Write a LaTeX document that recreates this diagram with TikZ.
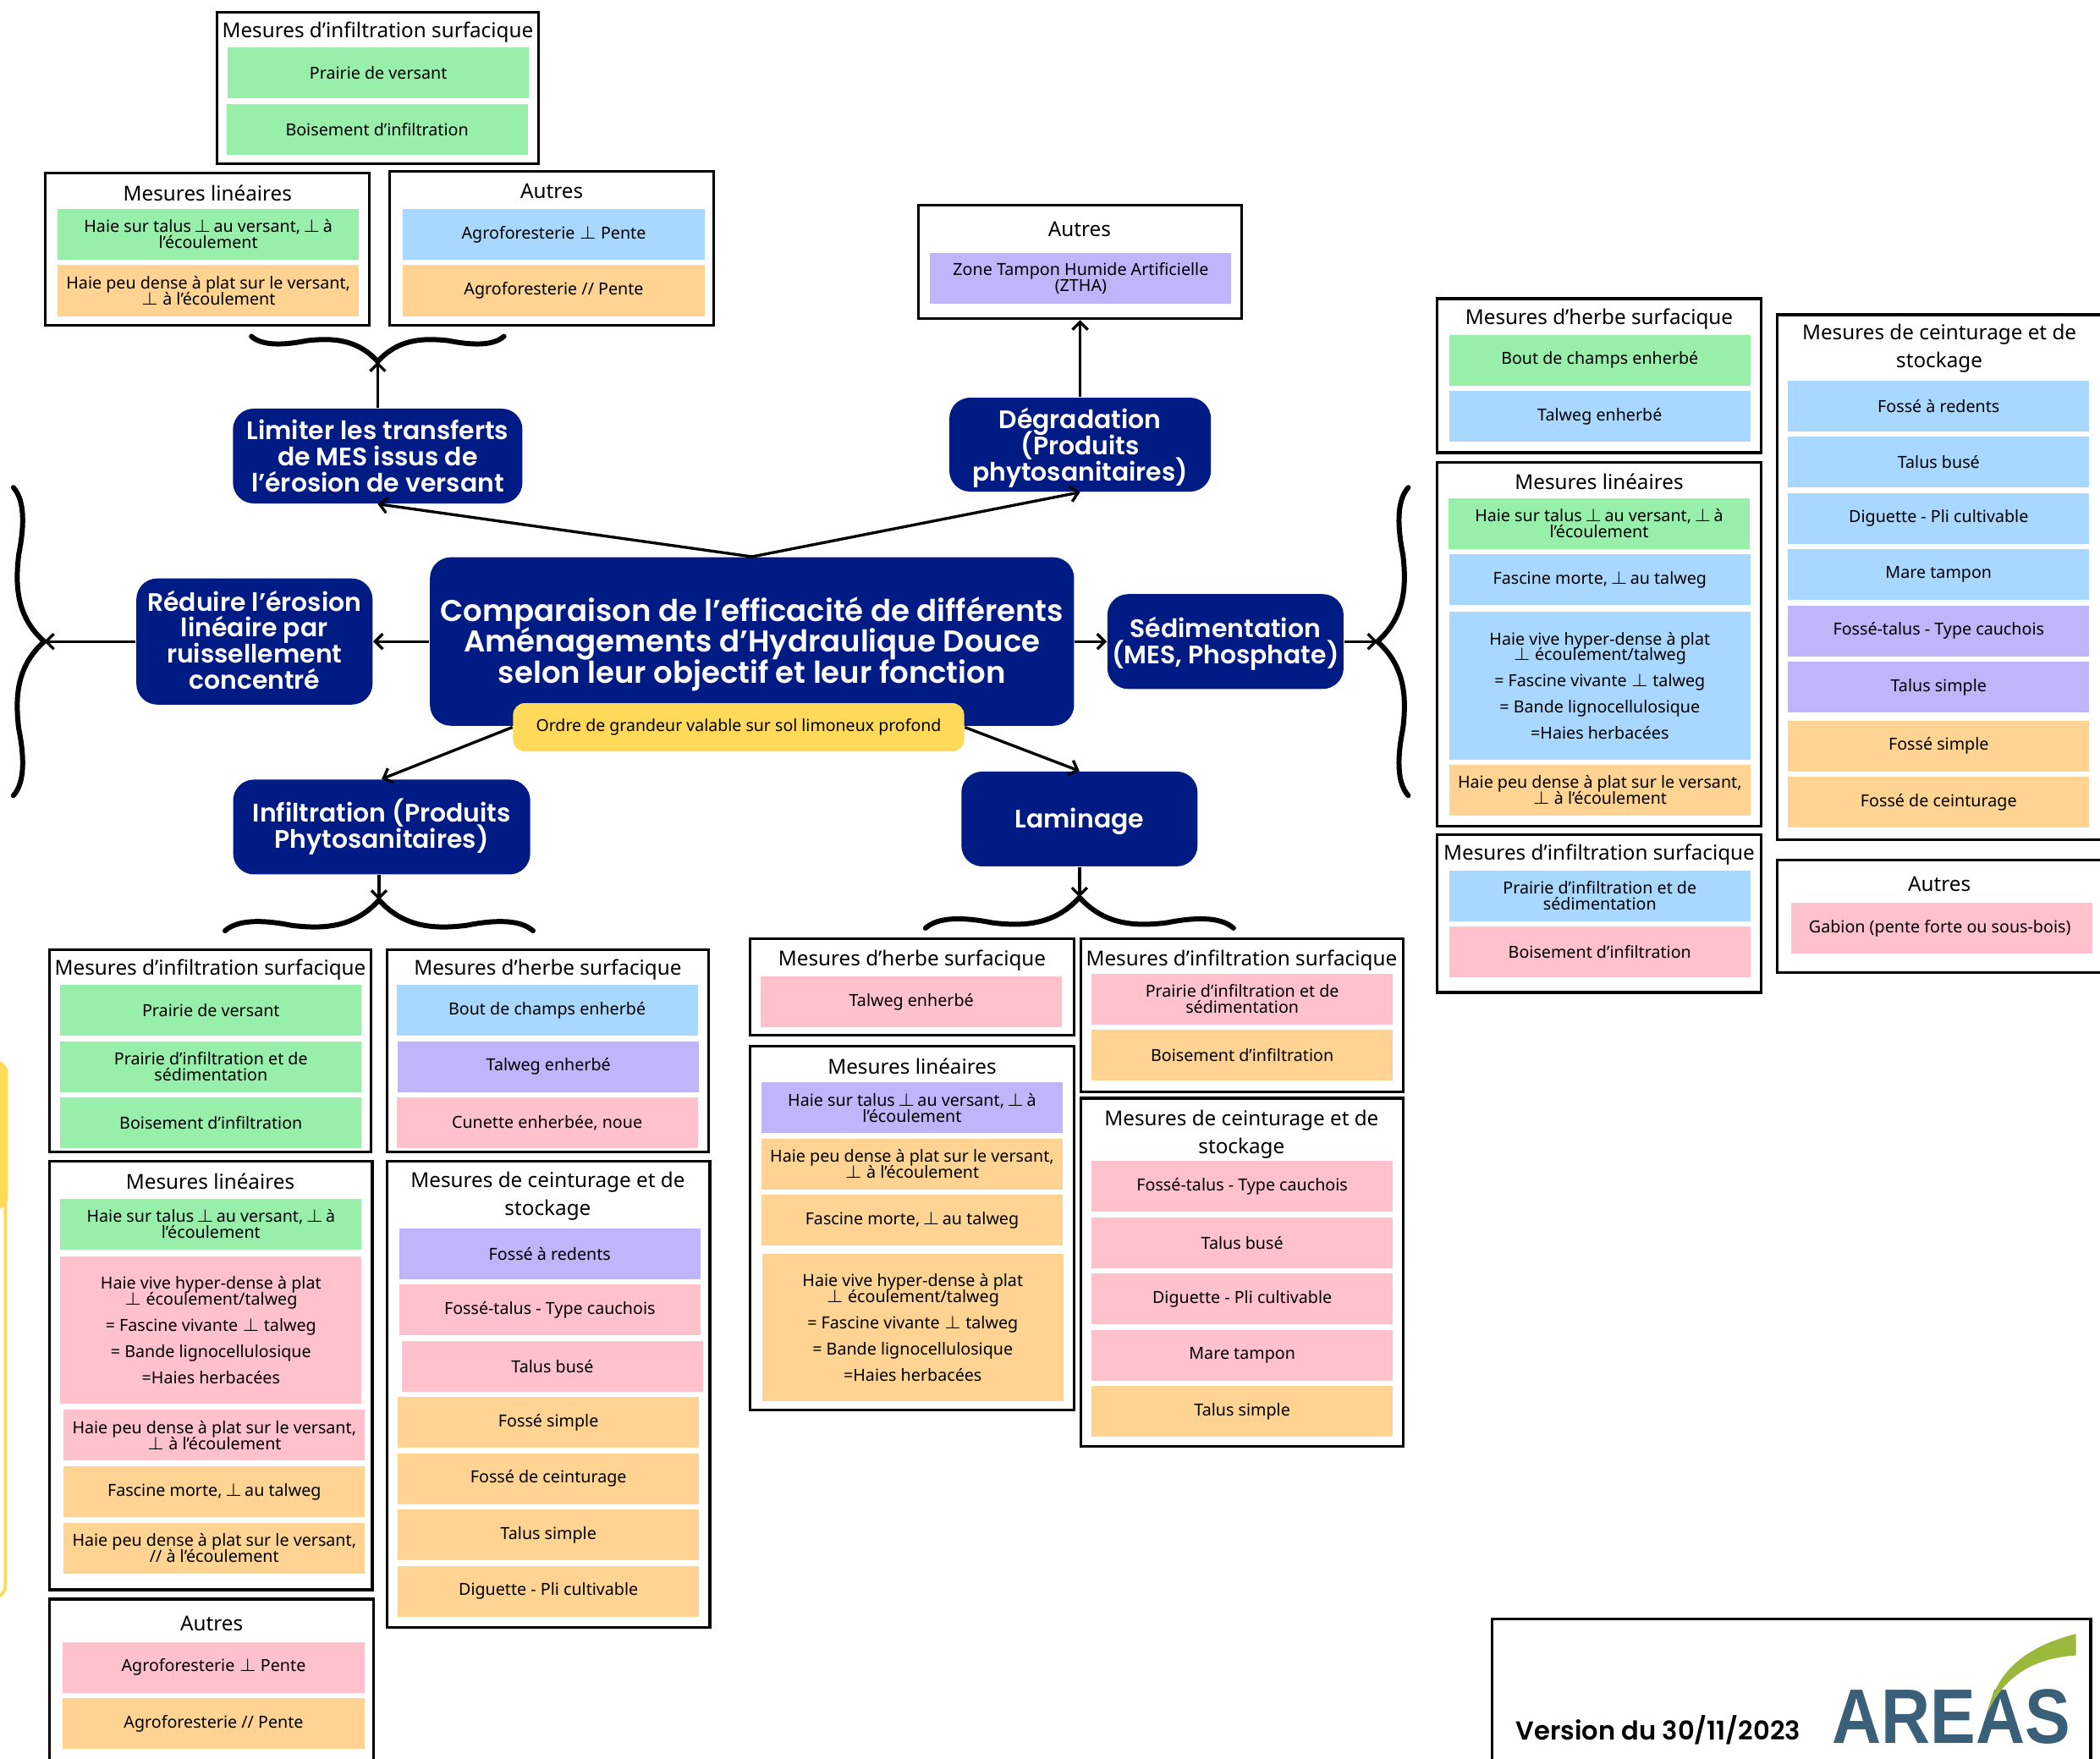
\documentclass[tikz,border=0pt]{standalone}
\usepackage{fontspec}
\setmainfont{Noto Sans}
\newfontfamily\headfont[BoldFont={Poppins SemiBold}]{Poppins}
\newfontfamily\logofont{Liberation Sans}
\usetikzlibrary{
  arrows.meta,
  fit
}
\definecolor{navyhub}{RGB}{0,28,132}
\definecolor{noteyellow}{RGB}{255,217,90}
\definecolor{cgreen}{RGB}{152,239,170}
\definecolor{cblue}{RGB}{168,216,255}
\definecolor{cpurple}{RGB}{192,180,250}
\definecolor{cpink}{RGB}{255,193,204}
\definecolor{corange}{RGB}{255,211,145}
\definecolor{logoblue}{RGB}{58,95,120}
\definecolor{logogreen}{RGB}{155,184,60}
\newcommand{\tperp}{\hspace{-.1em}$\perp$\hspace{-.1em}}
\newcommand{\haietalus}{Haie sur talus \tperp{} au versant, \tperp{} à\\ l’écoulement}
\newcommand{\haiepeu}{Haie peu dense à plat sur le versant,\\ $\perp$ à l’écoulement}
\newcommand{\haievive}{Haie vive hyper-dense à plat\\ $\perp$ écoulement/talweg\\[3.4pt] = Fascine vivante $\perp$ talweg\\[3.4pt] = Bande lignocellulosique\\[3.4pt] =Haies herbacées}
\newcommand{\prairieinf}{Prairie d’infiltration et de\\ sédimentation}
\newcommand{\fascine}{Fascine morte, \tperp{} au talweg}
\newcommand{\boisement}{Boisement d’infiltration}
\newcommand{\titreinf}{Mesures d’infiltration surfacique}
\newcommand{\titreherbe}{Mesures d’herbe surfacique}
\newcommand{\titrelin}{Mesures linéaires}
\newcommand{\titreceint}{Mesures de ceinturage et de\\[2.4pt] stockage}

\begin{document}
\begin{tikzpicture}[
  x=0.015829cm, y=-0.015829cm,
  tightlines/.style={execute at begin node={\lineskiplimit=-6pt}},
  panel/.style={draw, line width=0.9pt, fill=white, inner sep=0pt},
  paneltitle/.style={font=\fontsize{6.9}{7}\selectfont, align=center, inner sep=0pt, yshift=-0.015cm},
  cell/.style={tightlines, minimum width=3.56cm, minimum height=0.6cm, inner sep=0pt, align=center,
               font=\fontsize{5.6}{5.4}\selectfont},
  hub/.style={tightlines, fill=navyhub, text=white, rounded corners=7pt, align=center, inner sep=0pt,
              font=\headfont\fontsize{8.5}{8.75}\selectfont\bfseries},
  link/.style={-{Straight Barb[length=0.9mm,width=1.8mm]}, line width=0.95pt},
  curly/.pic={
    \draw[line width=1.7pt, line cap=round]
      (-115,23) .. controls (-105,14) and (-85,15) .. (-65,19)
      .. controls (-40,22) and (-18,20) .. (0,0)
      .. controls (18,20) and (40,22) .. (65,19)
      .. controls (85,15) and (105,14) .. (115,23);
  }
]
  \useasboundingbox (0,0) rectangle (1568,1313);

  % Frames
  \foreach \n/\xa/\ya/\xb/\yb in {
    pa/162/9/402/122, pb/34/129/276/243, pc/291/128/533/243, pd/686/153/927/238,
    pe/37/709/277/860, pf/289/709/529/860, pg/37/867/278/1187, ph/289/867/530/1215, pi/37/1194/279/1320,
    pj/560/701/802/773, pk/807/701/1048/815, pl/560/781/802/1053, pm/807/820/1048/1080,
    pn/1073/223/1315/338, po/1073/345/1315/617, pp/1073/623/1315/741, pq/1327/235/1575/627, pr/1327/642/1575/726,
    ps/1114/1209/1561/1320
  } {
    \node[panel, fit={(\xa,\ya)(\xb,\yb)}] (\n) {};
  }

  % Titles
  \foreach \n/\x/\y/\txt in {
    ta/282/23/\titreinf, tb/155/143/\titrelin, tc/412/142/Autres, td/806/170/Autres,
    te/157/723/\titreinf, tf/409/723/\titreherbe, tg/157/881/\titrelin, ti/158/1211/Autres,
    tj/681/716/\titreherbe, tk/927/716/\titreinf, tl/681/795/\titrelin,
    tn/1194/237/\titreherbe, to/1194/359/\titrelin, tp/1194/637/\titreinf, tr/1448/659/Autres,
    th/409/892/\titreceint, tm/927/846/\titreceint, tq/1448/259/\titreceint
  } {
    \node[paneltitle] (\n) at (\x,\y) {\txt};
  }

  % Cells
  \foreach \n/\x/\y/\col/\txt in {
    a1/282.5/54.5/cgreen/Prairie de versant, a2/281.5/96.5/cgreen/\boisement,
    b1/155.5/175/cgreen/\haietalus, b2/155.5/217/corange/\haiepeu,
    c1/413.5/175/cblue/{Agroforesterie $\perp$ Pente}, c2/413.5/217/corange/{Agroforesterie // Pente},
    d1/807/208/cpurple/{Zone Tampon Humide Artificielle\\ (ZTHA)},
    e1/157.5/754.5/cgreen/Prairie de versant, e2/157.5/796.5/cgreen/\prairieinf, e3/157.5/838.5/cgreen/\boisement,
    f1/408.5/754.5/cblue/Bout de champs enherbé, f2/409.5/796.5/cpurple/Talweg enherbé, f3/408.5/838.5/cpink/{Cunette enherbée, noue},
    g1/157.5/914/cgreen/\haietalus, g3/160/1071.5/cpink/\haiepeu, g4/160/1114/corange/\fascine,
    g5/160/1156/corange/{Haie peu dense à plat sur le versant,\\ // à l’écoulement},
    h1/410.5/936/cpurple/Fossé à redents, h2/410.5/978/cpink/Fossé-talus - Type cauchois, h3/412.5/1020/cpink/Talus busé,
    h4/409.5/1062/corange/Fossé simple, h5/409.5/1104/corange/Fossé de ceinturage, h6/409.5/1146/corange/Talus simple,
    h7/409.5/1188/corange/Diguette - Pli cultivable,
    i1/159.5/1245/cpink/{Agroforesterie $\perp$ Pente}, i2/159.5/1287/corange/{Agroforesterie // Pente},
    j1/680.5/748/cpink/Talweg enherbé,
    k1/927.5/746/cpink/\prairieinf, k2/927.5/788/corange/\boisement,
    l1/681/827/cpurple/\haietalus, l2/681/869/corange/\haiepeu, l3/681/911/corange/\fascine,
    m1/927.5/886/cpink/Fossé-talus - Type cauchois, m2/927.5/928/cpink/Talus busé, m3/927.5/970/cpink/Diguette - Pli cultivable,
    m4/927.5/1012/cpink/Mare tampon, m5/927.5/1054/corange/Talus simple,
    n1/1194.5/269/cgreen/Bout de champs enherbé, n2/1194.5/311/cblue/Talweg enherbé,
    o1/1194/391/cgreen/\haietalus, o2/1194.5/433/cblue/\fascine, o4/1194.5/590/corange/\haiepeu,
    p1/1194.5/669/cblue/\prairieinf, p2/1194.5/711/cpink/\boisement,
    q1/1447.5/303/cblue/Fossé à redents, q2/1447.5/345/cblue/Talus busé, q3/1447.5/387/cblue/Diguette - Pli cultivable,
    q4/1447.5/429/cblue/Mare tampon, q5/1447.5/471/cpurple/Fossé-talus - Type cauchois, q6/1447.5/513/cpurple/Talus simple,
    q7/1447.5/557/corange/Fossé simple, q8/1447.5/599/corange/Fossé de ceinturage,
    r1/1450/693/cpink/Gabion (pente forte ou sous-bois)
  } {
    \node[cell, fill=\col] (\n) at (\x,\y) {\txt};
  }

  % Tall cells
  \foreach \n/\x/\y/\col in {g2/157.5/993/cpink, l4/681.5/991/corange, o3/1194.5/512/cblue} {
    \node[cell, fill=\col, minimum height=1.74cm] (\n) at (\x,\y) {\haievive};
  }

  % Hubs
  \node[hub, minimum width=7.61cm, minimum height=1.99cm, font=\headfont\fontsize{10.1}{10.3}\selectfont\bfseries] (main) at (561.5,479)
    {\rule{0pt}{9.9pt}Comparaison de l’efficacité de différents\\ Aménagements d’Hydraulique Douce\\ selon leur objectif et leur fonction};
  \node[fill=noteyellow, rounded corners=4pt, minimum width=5.33cm, minimum height=0.57cm, inner sep=0pt,
        font=\fontsize{5.56}{6}\selectfont] (note) at (551.5,543) {Ordre de grandeur valable sur sol limoneux profond};
  \node[hub, minimum width=3.42cm, minimum height=1.12cm] (limiter) at (282,340.5)
    {Limiter les transferts\\ de MES issus de\\ l’érosion de versant};
  \node[hub, minimum width=3.09cm, minimum height=1.11cm] (degrad) at (806.5,332)
    {\rule{0pt}{9pt}Dégradation\\ (Produits\\ phytosanitaires)};
  \node[hub, minimum width=2.79cm, minimum height=1.49cm] (reduire) at (190,479)
    {Réduire l’érosion\\ linéaire par\\ ruissellement\\ concentré\rule[-1.2pt]{0pt}{0pt}};
  \node[hub, minimum width=2.79cm, minimum height=1.12cm] (sedim) at (915,479)
    {\rule{0pt}{8.3pt}Sédimentation\\ (MES, Phosphate)};
  \node[hub, minimum width=3.51cm, minimum height=1.12cm] (infil) at (285,617.5)
    {\rule{0pt}{7.4pt}Infiltration (Produits\\ Phytosanitaires)};
  \node[hub, minimum width=2.79cm, minimum height=1.12cm] (lamin) at (806,611.5) {\rule{0pt}{8.3pt}Laminage};

  % Braces
  \coordinate (tiptop) at (282,270);
  \coordinate (tipleft) at (33,479);
  \coordinate (tipright) at (1028.5,479);
  \coordinate (tipinf) at (283,672);
  \coordinate (tiplam) at (806,670);
  \pic[xscale=0.82, yscale=-0.82] at (tiptop) {curly};
  \pic[rotate=-90] at (tipleft) {curly};
  \pic[rotate=90] at (tipright) {curly};
  \pic at (tipinf) {curly};
  \pic at (tiplam) {curly};

  % Arrows
  \draw[link] (limiter.north) -- (tiptop);
  \draw[link] (degrad.north) -- (pd.south);
  \draw[link] (main.north) -- (limiter.south);
  \draw[link] (main.north) -- (degrad.south);
  \draw[link] (main.west) -- (reduire.east);
  \draw[link] (reduire.west) -- (tipleft);
  \draw[link] (main.east) -- (sedim.west);
  \draw[link] (sedim.east) -- (tipright);
  \draw[link] (note.west) -- (infil.north);
  \draw[link] (note.east) -- (lamin.north);
  \draw[link] (infil.south -| tipinf) -- (tipinf);
  \draw[link] (lamin.south) -- (tiplam);

  % Left edge
  \draw[noteyellow, line width=1.1pt, rounded corners=4pt] (-30,794) rectangle (4,1193);
  \fill[noteyellow, rounded corners=4pt] (-30,792) rectangle (6,903);

  % Version and logo
  \node[font=\headfont\fontsize{8.7}{10}\selectfont\bfseries, inner sep=0pt] (version) at (1238,1292) {Version du 30/11/2023};
  \node[font=\logofont\fontsize{26}{26}\selectfont\bfseries, text=logoblue, inner sep=0pt] (logo) at (1457,1282) {\scalebox{0.88}[1]{AREAS}};
  \fill[logogreen] (1484,1279) .. controls (1490,1250) and (1510,1230) .. (1550,1220)
    -- (1550,1236) .. controls (1520,1238) and (1497,1250) .. (1484,1279);
\end{tikzpicture}
\end{document}
